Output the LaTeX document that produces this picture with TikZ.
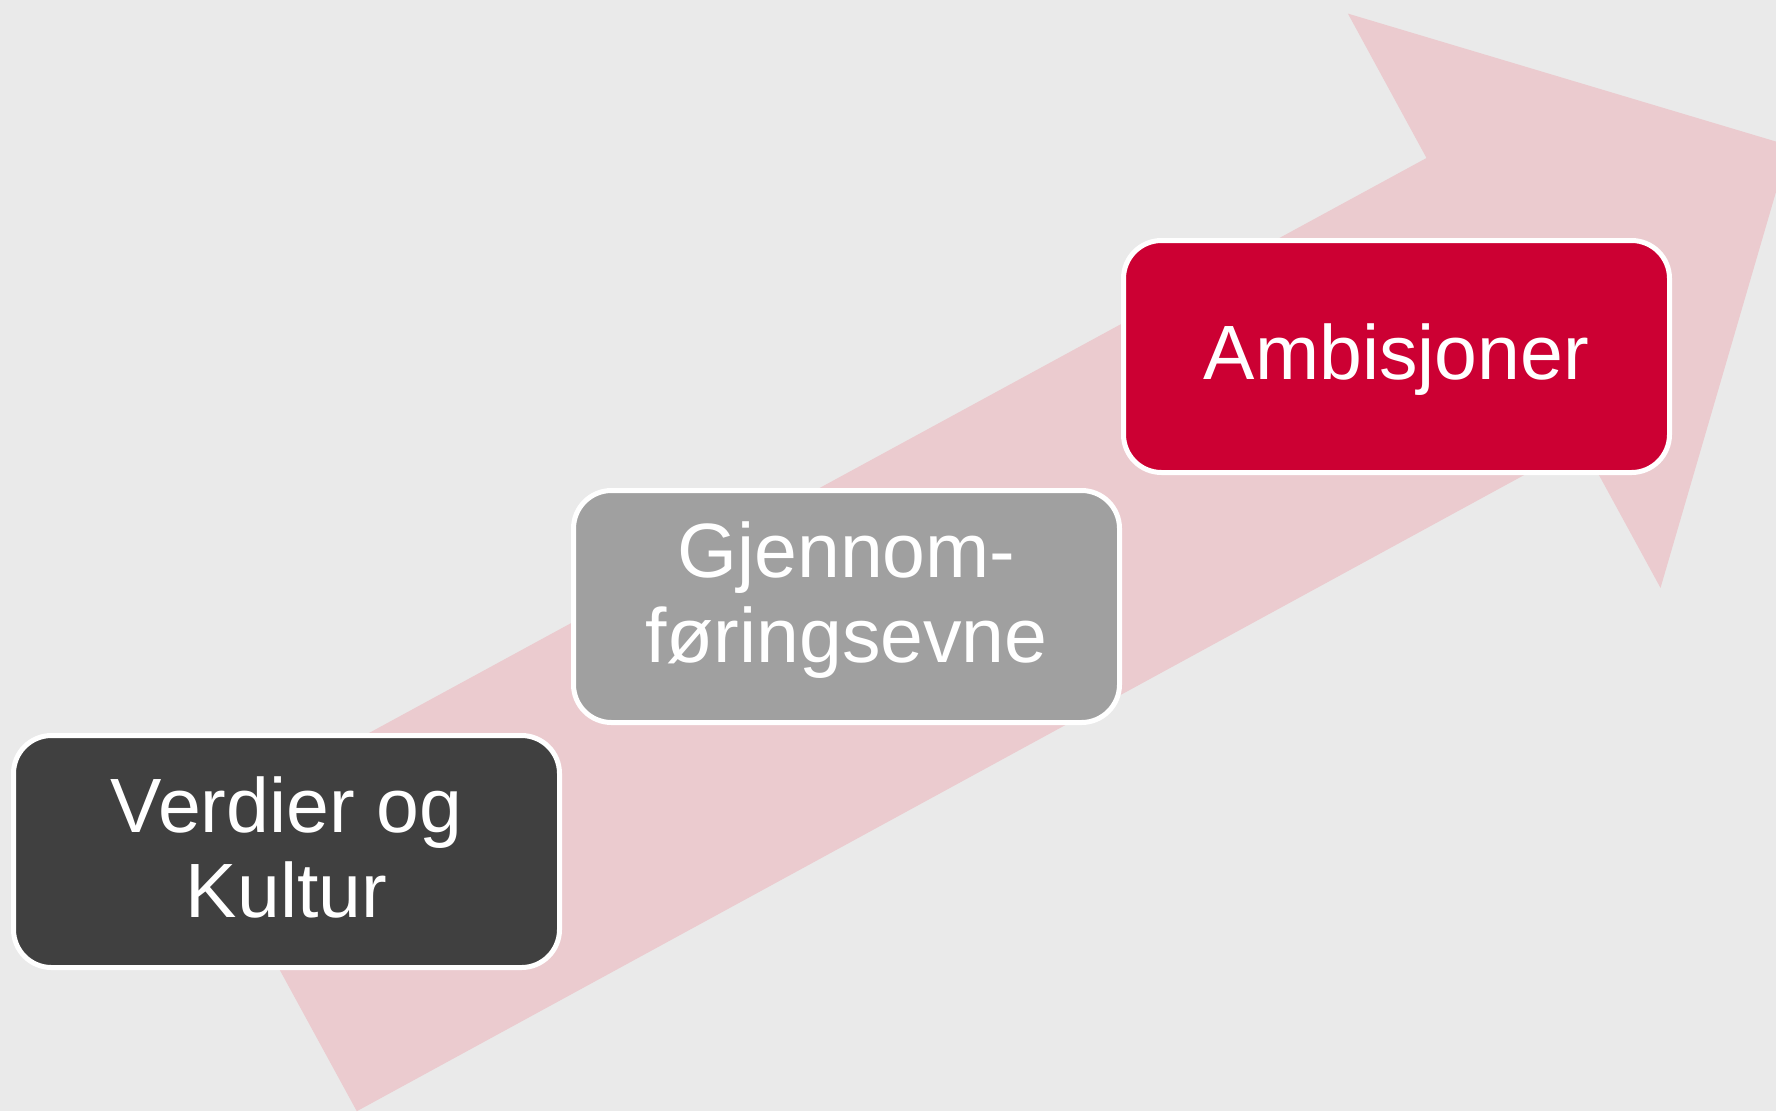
\documentclass[tikz,border=0pt]{standalone}
\usepackage{fontspec}
\setmainfont{Liberation Sans}
\definecolor{bggrey}{RGB}{234,234,234}
\definecolor{arrowpink}{RGB}{235,203,207}
\definecolor{stepdark}{RGB}{64,64,64}
\definecolor{stepgrey}{RGB}{160,160,160}
\definecolor{stepred}{RGB}{204,0,51}

\begin{document}
\begin{tikzpicture}[
    x=1pt, y=-1pt,
    stepbox/.style={rectangle, rounded corners=38pt, draw=white, line width=5pt, minimum width=546pt, minimum height=232pt, text=white, align=center, font=\fontsize{77}{85}\selectfont},
    bigarrow/.style={fill=arrowpink}
]

% Canvas: 1776 x 1111, y grows downwards
\fill[bggrey] (0,0) rectangle (1776,1111);
\useasboundingbox (0,0) rectangle (1776,1111);

% Background arrow (tip runs past the right edge)
\coordinate (tailb) at (356.8,1111.2);
\coordinate (tailt) at (200.5,824.6);
\coordinate (notchu) at (1426.5,158.0);
\coordinate (barbu) at (1347.9,13.6);
\coordinate (tip) at (1789.5,145.6);
\coordinate (barbl) at (1660.5,587.9);
\coordinate (notchl) at (1581.8,443.6);

\begin{scope}
    \clip (0,0) rectangle (1776,1111);
    \fill[bigarrow] (tailb) -- (tailt) -- (notchu) -- (barbu) -- (tip) -- (barbl) -- (notchl) -- cycle;
\end{scope}

% Steps
\node[stepbox, fill=stepdark, text depth=9pt] (verdier) at (286.5,851.5) {Verdier og\\Kultur};
\node[stepbox, fill=stepgrey, text depth=28pt] (gjennom) at (846.5,606.5) {Gjennom-\\føringsevne};
\node[stepbox, fill=stepred, text depth=9pt] (ambisjon) at (1396.5,356.5) {Ambisjoner};

\end{tikzpicture}
\end{document}
